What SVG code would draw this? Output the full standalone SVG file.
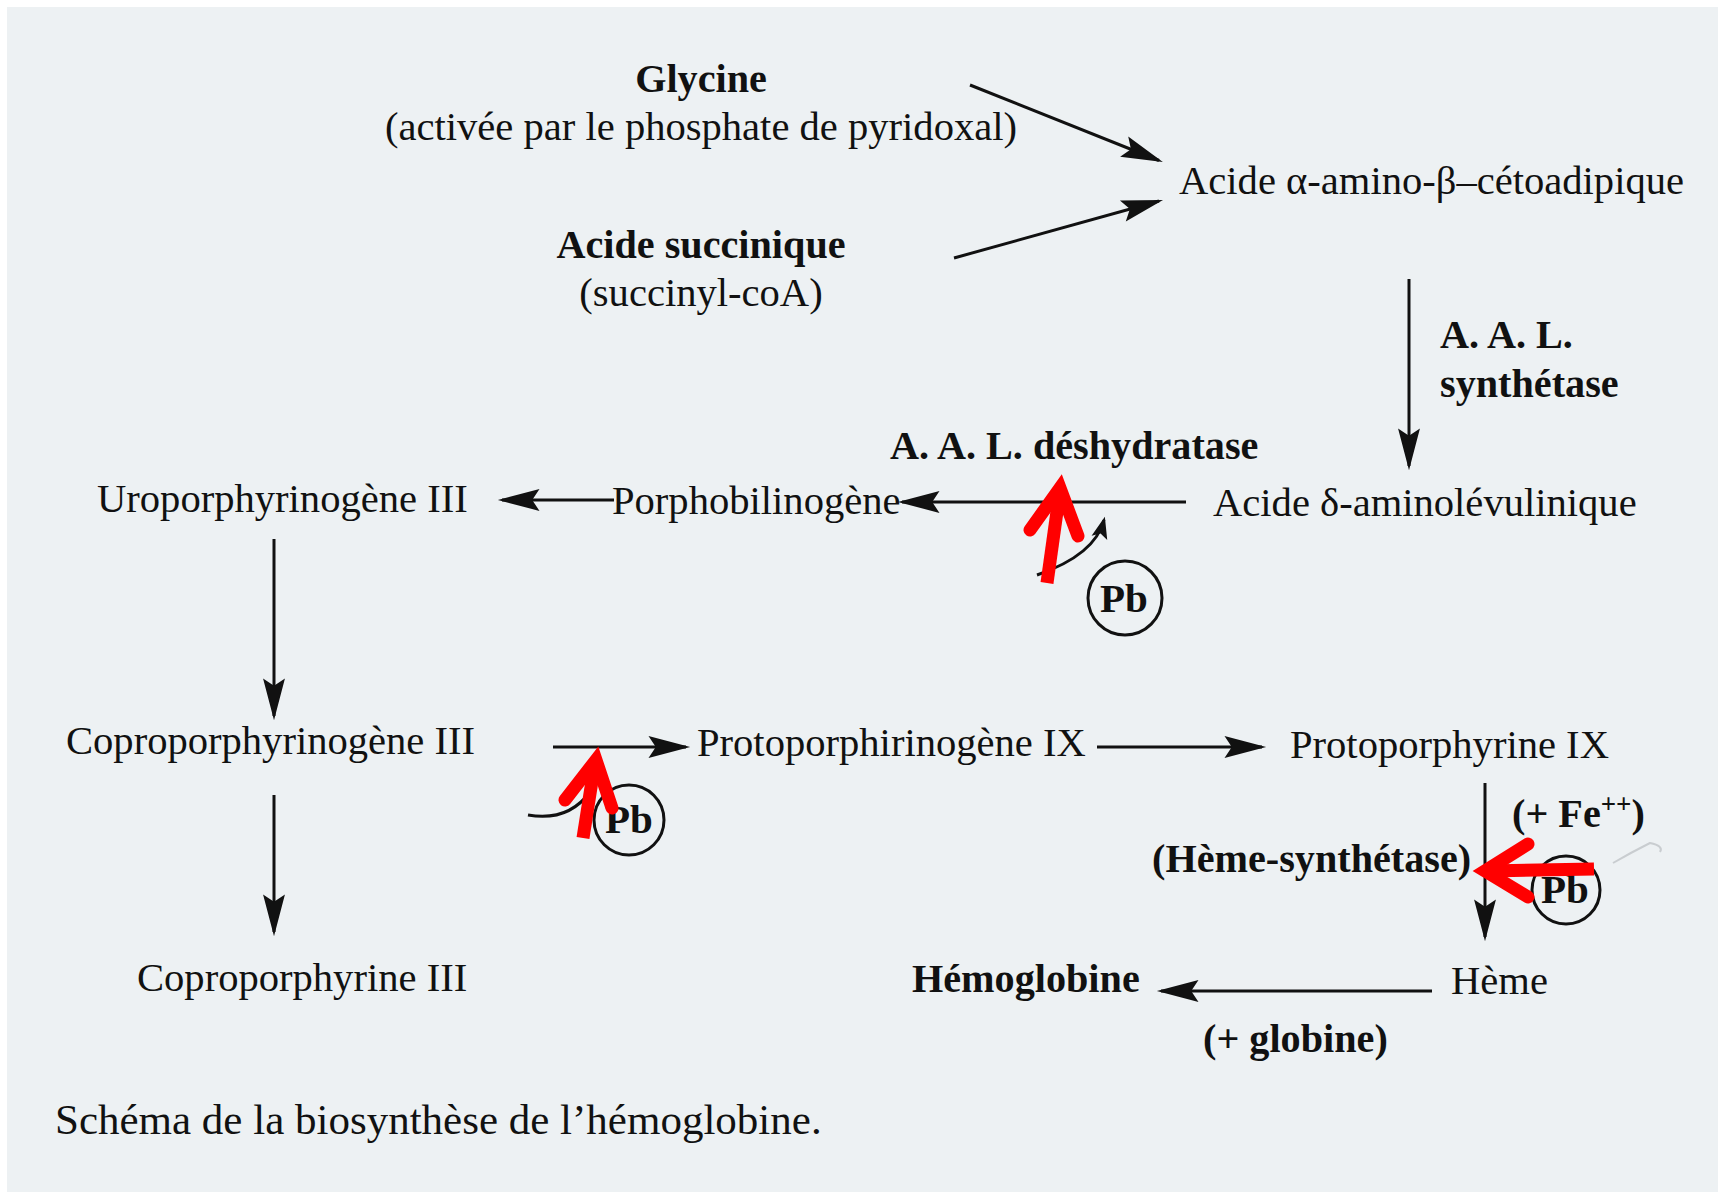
<svg xmlns="http://www.w3.org/2000/svg" width="1723" height="1195" viewBox="0 0 1723 1195">
  <style>
    text { font-family: "Liberation Serif", "Times New Roman", serif; fill: #111111; font-size: 40.6px; }
    .b { font-weight: bold; font-size: 40.2px; }
    .c { text-anchor: middle; }
    .cap { font-size: 43px; }
    .pb { font-weight: bold; font-size: 41px; text-anchor: middle; }
    .line { stroke: #111111; stroke-width: 3; fill: none; }
    .ring { stroke: #111111; stroke-width: 3; fill: none; }
    .faint { stroke: #c9cdd0; stroke-width: 2; fill: none; }
    .red { stroke: #ff0000; stroke-width: 13; fill: none; }
    .redhead { stroke: #ff0000; stroke-width: 13; fill: none; stroke-linecap: round; stroke-linejoin: miter; }
  </style>
  <defs>
    <marker id="head" markerUnits="userSpaceOnUse" markerWidth="50" markerHeight="30" viewBox="-40 -12 48 24" refX="0" refY="0" orient="auto">
      <path d="M4,0 L-36,-10.5 L-29,0 L-36,10.5 Z" fill="#111111"/>
    </marker>
    <marker id="small" markerUnits="userSpaceOnUse" markerWidth="30" markerHeight="20" viewBox="-20 -8 26 16" refX="0" refY="0" orient="auto">
      <path d="M3,0 L-16,-7 L-12,0 L-16,7 Z" fill="#111111"/>
    </marker>
  </defs>

  <!-- paper -->
  <rect x="0" y="0" width="1723" height="1195" fill="#ffffff"/>
  <rect x="7" y="7" width="1711" height="1185" fill="#edf1f3"/>

  <!-- connectors -->
  <g id="connectors">
    <line class="line" x1="970" y1="85" x2="1159" y2="160.5" marker-end="url(#head)"/>
    <line class="line" x1="954" y1="258" x2="1159" y2="201" marker-end="url(#head)"/>
    <line class="line" x1="1409" y1="279" x2="1409" y2="466" marker-end="url(#head)"/>
    <line class="line" x1="1186" y1="502" x2="902" y2="502" marker-end="url(#head)"/>
    <line class="line" x1="614" y1="500" x2="502" y2="500" marker-end="url(#head)"/>
    <line class="line" x1="274" y1="539" x2="274" y2="716" marker-end="url(#head)"/>
    <line class="line" x1="274" y1="795" x2="274" y2="932" marker-end="url(#head)"/>
    <line class="line" x1="553" y1="747" x2="686" y2="747" marker-end="url(#head)"/>
    <line class="line" x1="1097" y1="747" x2="1262" y2="747" marker-end="url(#head)"/>
    <line class="line" x1="1485" y1="783" x2="1485" y2="937" marker-end="url(#head)"/>
    <line class="line" x1="1432" y1="991" x2="1161" y2="991" marker-end="url(#head)"/>
    <!-- lead inhibition hooks -->
    <path class="line" d="M1037,575 Q1095,555 1104,520" marker-end="url(#small)"/>
    <path class="line" d="M528,815 Q568,822 590,792"/>
    <path class="faint" d="M1613,863 Q1632,852 1650,843 Q1664,846 1660,852"/>
  </g>

  <!-- substrates and products -->
  <g id="glycine">
    <text class="b c" x="701" y="92">Glycine</text>
    <text class="c" x="701" y="140">(activée par le phosphate de pyridoxal)</text>
  </g>
  <g id="succinique">
    <text class="b c" x="701" y="258">Acide succinique</text>
    <text class="c" x="701" y="306">(succinyl-coA)</text>
  </g>
  <g id="cetoadipique">
    <text x="1179" y="194">Acide α-amino-β–cétoadipique</text>
  </g>
  <g id="aal-synthetase">
    <text class="b" x="1440" y="348">A. A. L.</text>
    <text class="b" x="1440" y="397">synthétase</text>
  </g>
  <g id="aal-deshydratase">
    <text class="b" x="890" y="459">A. A. L. déshydratase</text>
  </g>
  <g id="aminolevulinique">
    <text x="1213" y="516">Acide δ-aminolévulinique</text>
  </g>
  <g id="porphobilinogene">
    <text x="612" y="514">Porphobilinogène</text>
  </g>
  <g id="uroporphyrinogene">
    <text x="97" y="512">Uroporphyrinogène III</text>
  </g>
  <g id="coproporphyrinogene">
    <text x="66" y="754">Coproporphyrinogène III</text>
  </g>
  <g id="coproporphyrine">
    <text x="137" y="991">Coproporphyrine III</text>
  </g>
  <g id="protoporphirinogene">
    <text x="697" y="756">Protoporphirinogène IX</text>
  </g>
  <g id="protoporphyrine">
    <text x="1290" y="758">Protoporphyrine IX</text>
  </g>
  <g id="fer">
    <text class="b" x="1512" y="827">(+ Fe<tspan font-size="27" dy="-14">++</tspan><tspan dy="14">)</tspan></text>
  </g>
  <g id="heme-synthetase">
    <text class="b" x="1152" y="872">(Hème-synthétase)</text>
  </g>
  <g id="heme">
    <text x="1451" y="994">Hème</text>
  </g>
  <g id="hemoglobine">
    <text class="b" x="912" y="992">Hémoglobine</text>
  </g>
  <g id="globine">
    <text class="b" x="1203" y="1052">(+ globine)</text>
  </g>

  <!-- lead markers -->
  <g id="pb-1">
    <circle class="ring" cx="1125" cy="598" r="37"/>
    <text class="pb" x="1124" y="612">Pb</text>
  </g>
  <g id="pb-2">
    <circle class="ring" cx="629" cy="820" r="35"/>
    <text class="pb" x="629" y="833">Pb</text>
  </g>
  <g id="pb-3">
    <circle class="ring" cx="1566" cy="890" r="34"/>
    <text class="pb" x="1565" y="903">Pb</text>
  </g>

  <!-- red pointers -->
  <g id="pointer-1">
    <line class="red" x1="1047" y1="583" x2="1060" y2="490"/>
    <polyline class="redhead" points="1030,530 1060,488 1078,536"/>
  </g>
  <g id="pointer-2">
    <line class="red" x1="583" y1="838" x2="595" y2="762"/>
    <polyline class="redhead" points="565,800 596,760 612,808"/>
  </g>
  <g id="pointer-3">
    <line class="red" x1="1594" y1="869" x2="1487" y2="871"/>
    <polyline class="redhead" points="1528,844 1485,871 1528,897"/>
  </g>

  <g id="caption">
    <text class="cap" x="55" y="1134">Schéma de la biosynthèse de l’hémoglobine.</text>
  </g>
</svg>
